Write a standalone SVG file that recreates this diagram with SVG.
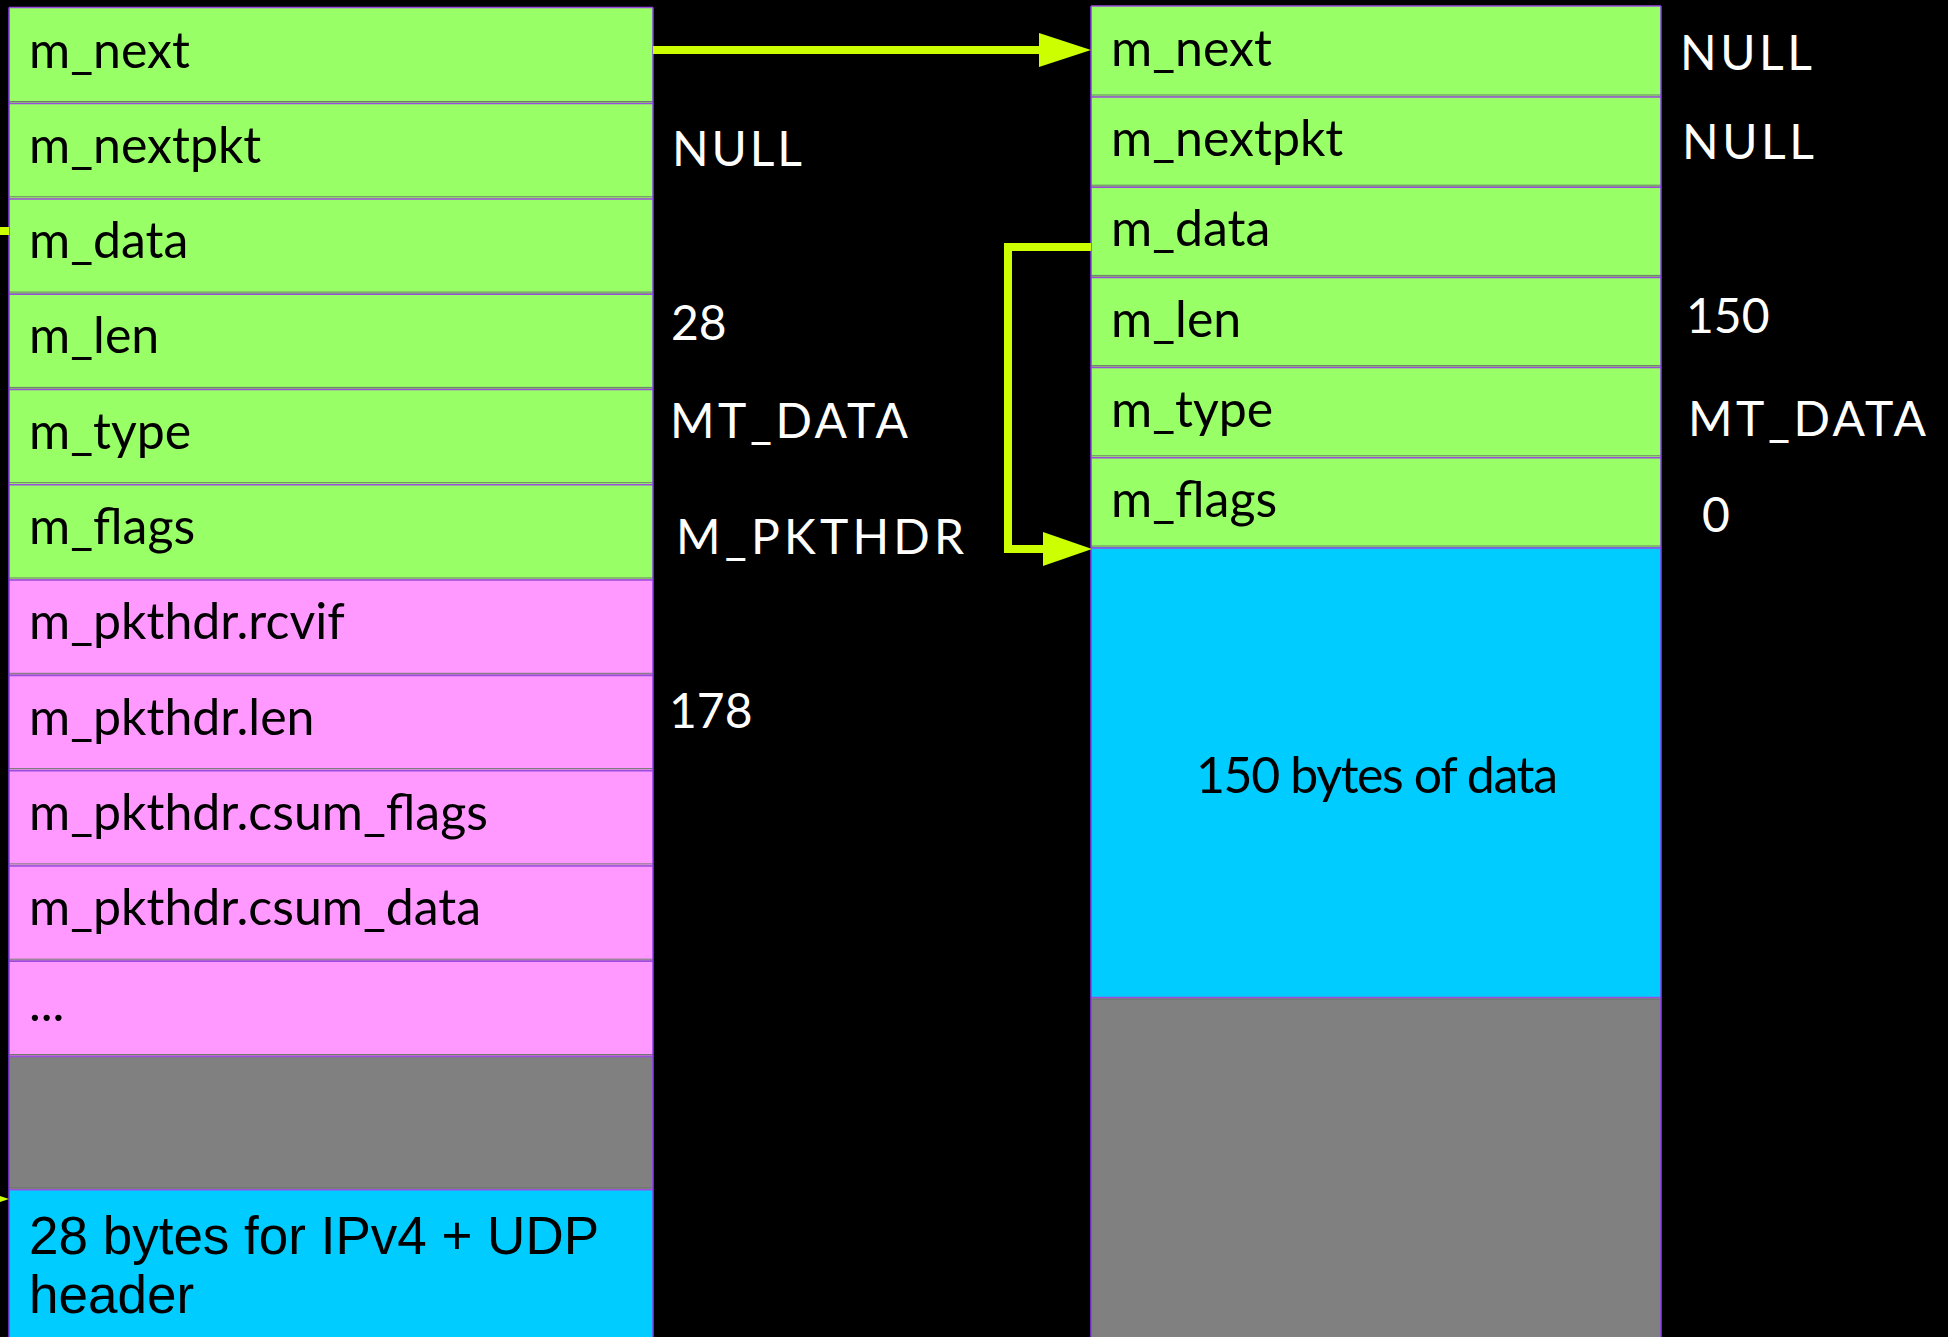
<svg xmlns="http://www.w3.org/2000/svg" width="1948" height="1337" viewBox="0 0 1948 1337">
  <style>
    .green { fill: #99ff66; }
    .pink { fill: #ff99ff; }
    .blue { fill: #00ccff; }
    .gray { fill: #808080; }
    .sep-dark { stroke: #6e7a6e; stroke-width: 1; fill: none; }
    .sep-purple { stroke: #9b4de0; stroke-width: 1.5; fill: none; }
    .edge { stroke: #8a3cf0; stroke-width: 1.5; fill: none; }
    .label { font-family: Lato, "Liberation Sans", sans-serif; font-size: 50px; fill: #000; }
    .value { font-family: Lato, "Liberation Sans", sans-serif; font-size: 48px; fill: #fff; }
    .hdr { font-family: "Liberation Sans", Arial, sans-serif; font-size: 53px; fill: #000; }
    .link { stroke: #ccff00; stroke-width: 8; fill: none; stroke-linejoin: miter; }
    .head { fill: #ccff00; }
  </style>

  <rect x="0" y="0" width="1948" height="1337" fill="#000"/>

  <!-- first mbuf (packet header mbuf) -->
  <g id="mbuf1">
    <rect class="green" x="9" y="7.5" width="644" height="95.3"/>
    <rect class="green" x="9" y="102.8" width="644" height="95.3"/>
    <rect class="green" x="9" y="198.1" width="644" height="95.3"/>
    <rect class="green" x="9" y="293.4" width="644" height="95.3"/>
    <rect class="green" x="9" y="388.7" width="644" height="95.3"/>
    <rect class="green" x="9" y="484" width="644" height="95.3"/>
    <rect class="pink" x="9" y="579.3" width="644" height="95.3"/>
    <rect class="pink" x="9" y="674.6" width="644" height="95.3"/>
    <rect class="pink" x="9" y="769.9" width="644" height="95.3"/>
    <rect class="pink" x="9" y="865.2" width="644" height="95.3"/>
    <rect class="pink" x="9" y="960.5" width="644" height="95.3"/>
    <rect class="gray" x="9" y="1055.8" width="644" height="133.2"/>
    <rect class="blue" x="9" y="1189" width="644" height="150"/>
    <path class="sep-dark" d="M9 101.5H653M9 196.8H653M9 292.1H653M9 387.4H653M9 482.7H653M9 578H653M9 673.3H653M9 768.6H653M9 863.9H653M9 959.2H653M9 1054.5H653M9 1187.7H653"/>
    <path class="sep-purple" d="M9 7.5H653M9 103.6H653M9 198.9H653M9 294.2H653M9 389.5H653M9 484.8H653M9 580.1H653M9 675.4H653M9 770.7H653M9 866H653M9 961.3H653M9 1056.6H653M9 1189.8H653"/>
    <path class="edge" d="M9 7.5V1337M653 7.5V1337"/>

    <text class="label" x="29" y="67.5">m_next</text>
    <text class="label" x="29" y="162.8">m_nextpkt</text>
    <text class="label" x="29" y="258.1">m_data</text>
    <text class="label" x="29" y="353.4">m_len</text>
    <text class="label" x="29" y="448.7">m_type</text>
    <text class="label" x="29" y="544">m_flags</text>
    <text class="label" x="29" y="639.3">m_pkthdr.rcvif</text>
    <text class="label" x="29" y="734.6">m_pkthdr.len</text>
    <text class="label" x="29" y="829.9">m_pkthdr.csum_flags</text>
    <text class="label" x="29" y="925.2">m_pkthdr.csum_data</text>
    <text class="label" x="29" y="1020.5">...</text>
    <text class="hdr" x="29" y="1254">28 bytes for IPv4 + UDP</text>
    <text class="hdr" x="29" y="1313">header</text>

    <text class="value" x="672" y="166" textLength="130">NULL</text>
    <text class="value" x="671" y="340">28</text>
    <text class="value" x="670" y="438" textLength="238">MT_DATA</text>
    <text class="value" x="676" y="554" textLength="288">M_PKTHDR</text>
    <text class="value" x="669" y="728">178</text>
  </g>

  <!-- second mbuf (plain data mbuf) -->
  <g id="mbuf2">
    <rect class="green" x="1091" y="6" width="570" height="90.2"/>
    <rect class="green" x="1091" y="96.2" width="570" height="90.2"/>
    <rect class="green" x="1091" y="186.4" width="570" height="90.2"/>
    <rect class="green" x="1091" y="276.6" width="570" height="90.2"/>
    <rect class="green" x="1091" y="366.8" width="570" height="90.2"/>
    <rect class="green" x="1091" y="457" width="570" height="90.2"/>
    <rect class="blue" x="1091" y="547.2" width="570" height="450.8"/>
    <rect class="gray" x="1091" y="998" width="570" height="340"/>
    <path class="sep-dark" d="M1091 95H1661M1091 185.2H1661M1091 275.4H1661M1091 365.6H1661M1091 455.8H1661M1091 546H1661M1091 999.4H1661"/>
    <path class="sep-purple" d="M1091 6H1661M1091 97H1661M1091 187.2H1661M1091 277.4H1661M1091 367.6H1661M1091 457.8H1661M1091 548H1661M1091 997.6H1661"/>
    <path class="edge" d="M1091 6V1337M1661 6V1337"/>

    <text class="label" x="1111" y="66">m_next</text>
    <text class="label" x="1111" y="156.2">m_nextpkt</text>
    <text class="label" x="1111" y="246.4">m_data</text>
    <text class="label" x="1111" y="336.6">m_len</text>
    <text class="label" x="1111" y="426.8">m_type</text>
    <text class="label" x="1111" y="517">m_flags</text>
    <text class="label" x="1377" y="793" text-anchor="middle" textLength="362">150 bytes of data</text>

    <text class="value" x="1680" y="70" textLength="132">NULL</text>
    <text class="value" x="1682" y="159" textLength="132">NULL</text>
    <text class="value" x="1686" y="333">150</text>
    <text class="value" x="1688" y="436" textLength="238">MT_DATA</text>
    <text class="value" x="1702" y="532">0</text>
  </g>

  <!-- pointers -->
  <g id="connectors">
    <!-- mbuf1.m_next -> mbuf2 -->
    <path class="link" d="M653 50H1042"/>
    <polygon class="head" points="1039,33 1091,50 1039,67"/>
    <!-- mbuf2.m_data -> start of its data area -->
    <path class="link" d="M1091 247H1008V549H1045"/>
    <polygon class="head" points="1043,532 1092,549 1043,566"/>
    <!-- mbuf1.m_data, routed outside the view, back to its header bytes -->
    <path class="link" d="M9 231H-20"/>
    <polygon class="head" points="-41,1182 9,1199 -41,1216"/>
  </g>
</svg>
